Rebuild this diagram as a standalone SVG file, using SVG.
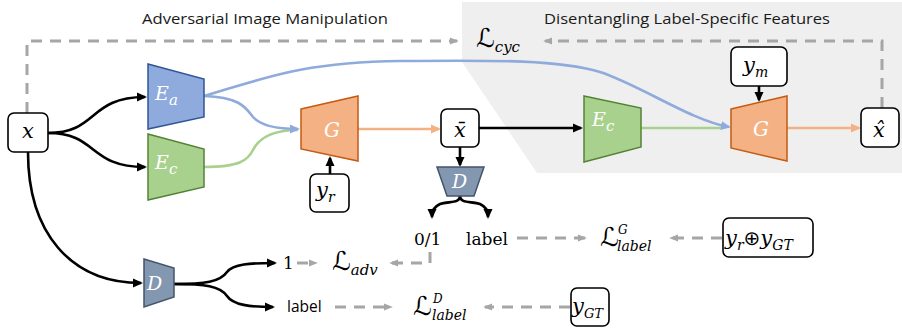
<svg xmlns="http://www.w3.org/2000/svg" width="902" height="335" viewBox="0 0 902 335">
<style>
.title{font-family:"Open Sans","Liberation Sans",sans-serif;font-size:15px;fill:#1a1a1a}
.m{font-family:"DejaVu Serif","Liberation Serif",serif;font-style:italic;fill:#000}
.w{fill:#fff}
.L{font-family:"DejaVu Serif","DejaVu Sans",serif;font-style:normal;font-size:26px}
.up{font-family:"DejaVu Serif","Liberation Serif",serif;font-size:17px;fill:#000}
.sans{font-family:"Open Sans","Liberation Sans",sans-serif;font-size:15.5px;fill:#000}
.box{fill:#fff;stroke:#000;stroke-width:1.6}
.blk{fill:none;stroke:#000;stroke-width:2.6}
.dash{fill:none;stroke:#a6a6a6;stroke-width:3;stroke-dasharray:11 8}
.blue{fill:none;stroke:#8faadc;stroke-width:2.6}
.green{fill:none;stroke:#a9d18e;stroke-width:2.6}
.orange{fill:none;stroke:#f4b183;stroke-width:2.6}
.ea{fill:#8faadc;stroke:#2f5597;stroke-width:1.5}
.ec{fill:#a9d18e;stroke:#548235;stroke-width:1.5}
.g{fill:#f4b183;stroke:#c55a11;stroke-width:1.5}
.d{fill:#8497b0;stroke:#44546a;stroke-width:1.5}
</style>
<defs>
<marker id="ab" viewBox="0 0 10 10" refX="8" refY="5" markerWidth="10" markerHeight="10" markerUnits="userSpaceOnUse" orient="auto"><path d="M0,0.5 L10,5 L0,9.5 z" fill="#000"/></marker>
<marker id="abl" viewBox="0 0 10 10" refX="8" refY="5" markerWidth="10" markerHeight="10" markerUnits="userSpaceOnUse" orient="auto"><path d="M0,0.5 L10,5 L0,9.5 z" fill="#8faadc"/></marker>
<marker id="aor" viewBox="0 0 10 10" refX="8" refY="5" markerWidth="10" markerHeight="10" markerUnits="userSpaceOnUse" orient="auto"><path d="M0,0.5 L10,5 L0,9.5 z" fill="#f4b183"/></marker>
<marker id="agr" viewBox="0 0 10 10" refX="8" refY="5" markerWidth="9" markerHeight="9" markerUnits="userSpaceOnUse" orient="auto"><path d="M0,1 L10,5 L0,9 z" fill="#a6a6a6"/></marker>
</defs>

<path d="M462,2 H902 V173 H537 L462,62 Z" fill="#efefef"/>

<text class="title" x="142" y="24" textLength="246" lengthAdjust="spacingAndGlyphs">Adversarial Image Manipulation</text>
<text class="title" x="544" y="24" textLength="286" lengthAdjust="spacingAndGlyphs">Disentangling Label-Specific Features</text>

<g id="connectors">
  <path class="dash" d="M27,113 V41 H457" marker-end="url(#agr)"/>
  <path class="dash" d="M882,108 V41 H545" marker-end="url(#agr)"/>
  <path class="dash" d="M430,252 V263 H391" marker-end="url(#agr)"/>
  <path class="dash" d="M297,263 H316" marker-end="url(#agr)"/>
  <path class="dash" d="M517,238 H585" marker-end="url(#agr)"/>
  <path class="dash" d="M722,238 H671" marker-end="url(#agr)"/>
  <path class="dash" d="M335,307 H391" marker-end="url(#agr)"/>
  <path class="dash" d="M570,307 H485" marker-end="url(#agr)"/>

  <path class="blk" d="M48,133 C98,133 88,97 145,97" marker-end="url(#ab)"/>
  <path class="blk" d="M48,133 C98,133 88,167 145,167" marker-end="url(#ab)"/>
  <path class="blk" d="M28,152 C28,232 70,283 141,283" marker-end="url(#ab)"/>
  <path class="blk" d="M330,174 V158" marker-end="url(#ab)"/>
  <path class="blk" d="M460,147 V165" marker-end="url(#ab)"/>
  <path class="blk" d="M479,128 H581" marker-end="url(#ab)"/>
  <path class="blk" d="M759,86 V100" marker-end="url(#ab)"/>
  <path class="blk" d="M460,196 C460,204 448,201 440,204 C434,207 432,210 432,217" marker-end="url(#ab)"/>
  <path class="blk" d="M460,196 C460,204 472,201 480,204 C486,207 488,210 488,217" marker-end="url(#ab)"/>
  <path class="blk" d="M174,284 C205,284 220,282 227,272 C233,264 250,263 275,263" marker-end="url(#ab)"/>
  <path class="blk" d="M174,284 C205,284 220,286 227,296 C233,305 250,307 273,307" marker-end="url(#ab)"/>

  <path class="orange" d="M358,129 H439" marker-end="url(#aor)"/>
  <path class="orange" d="M787,128 H859" marker-end="url(#aor)"/>
  <path class="green" d="M204,167 C240,167 248,160 253,150 C260,136 275,130 298,130"/>
  <path class="green" d="M641,128 H722"/>
  <path class="blue" d="M204,96 C240,97 246,108 253,117 C262,127 280,129 298,129" marker-end="url(#abl)"/>
  <path class="blue" d="M204,96 C260,80 300,62 400,61 C500,60 560,60 600,72 C640,85 690,120 729,127" marker-end="url(#abl)"/>
</g>

<g id="x"><rect class="box" x="8" y="113" width="40" height="39" rx="6"/><text class="m" x="28" y="138" font-size="21" text-anchor="middle">x</text></g>
<g id="Ea"><path class="ea" d="M148,64 L204,79 L204,117 L148,129 Z"/><text class="m w" x="155" y="100" font-size="19">E<tspan font-size="15" dy="5">a</tspan></text></g>
<g id="Ec1"><path class="ec" d="M148,134 L204,149 L204,187 L148,200 Z"/><text class="m w" x="155" y="169" font-size="19">E<tspan font-size="15" dy="5">c</tspan></text></g>
<g id="G1"><path class="g" d="M301,109 L358,96 L358,161 L301,149 Z"/><text class="m w" x="324" y="137" font-size="20">G</text></g>
<g id="yr"><rect class="box" x="310" y="174" width="39" height="38" rx="6"/><text class="m" x="316" y="197" font-size="21">y<tspan font-size="14" dy="5">r</tspan></text></g>
<g id="xbar"><rect class="box" x="441" y="109" width="38" height="38" rx="6"/><text class="m" x="460" y="137" font-size="21" text-anchor="middle">x̄</text></g>
<g id="D1"><path class="d" d="M437,167 L484,167 L474,196 L447,196 Z"/><text class="m w" x="452" y="188" font-size="19">D</text></g>
<g id="Ec2"><path class="ec" d="M584,96 L641,108 L641,147 L584,162 Z"/><text class="m w" x="592" y="126" font-size="19">E<tspan font-size="15" dy="5">c</tspan></text></g>
<g id="G2"><path class="g" d="M731,109 L787,96 L787,161 L731,148 Z"/><text class="m w" x="753" y="136" font-size="20">G</text></g>
<g id="ym"><rect class="box" x="731" y="47" width="56" height="39" rx="6"/><text class="m" x="743" y="72" font-size="21">y<tspan font-size="14" dy="5">m</tspan></text></g>
<g id="xhat"><rect class="box" x="861" y="108" width="38" height="39" rx="6"/><text class="m" x="879" y="137" font-size="21" text-anchor="middle">x̂</text></g>
<g id="D2"><path class="d" d="M144,259 L174,268 L174,297 L144,307 Z"/><text class="m w" x="147" y="290" font-size="19">D</text></g>

<g id="Lcyc"><text class="m" x="476" y="47" font-size="22"><tspan class="L">ℒ</tspan><tspan font-size="15" dy="5">cyc</tspan></text></g>
<g id="Ladv"><text class="m" x="332" y="270" font-size="22"><tspan class="L">ℒ</tspan><tspan font-size="15" dy="5">adv</tspan></text></g>
<g id="LlabelG"><text class="m" x="600" y="246"><tspan class="L">ℒ</tspan></text><text class="m" x="618" y="234" font-size="12">G</text><text class="m" x="617" y="251" font-size="14">label</text></g>
<g id="LlabelD"><text class="m" x="413" y="315"><tspan class="L">ℒ</tspan></text><text class="m" x="433" y="303" font-size="12">D</text><text class="m" x="432" y="320" font-size="14">label</text></g>

<g id="out01"><text class="up" x="414" y="245">0/1</text></g>
<g id="outlabel"><text class="up" x="466" y="245">label</text></g>
<g id="out1"><text class="up" x="283" y="269">1</text></g>
<g id="outlabel2"><text class="sans" x="287" y="312">label</text></g>

<g id="yrgt"><rect class="box" x="723" y="218" width="90" height="39" rx="6"/><text class="m" x="725" y="245" font-size="21">y<tspan font-size="14" dy="5">r</tspan><tspan font-style="normal" font-family="DejaVu Sans, sans-serif" font-size="20" dy="-5">⊕</tspan>y<tspan font-size="14" dy="5">GT</tspan></text></g>
<g id="ygt"><rect class="box" x="571" y="288" width="38" height="38" rx="6"/><text class="m" x="572" y="313" font-size="21">y<tspan font-size="13" dy="5">GT</tspan></text></g>
</svg>
